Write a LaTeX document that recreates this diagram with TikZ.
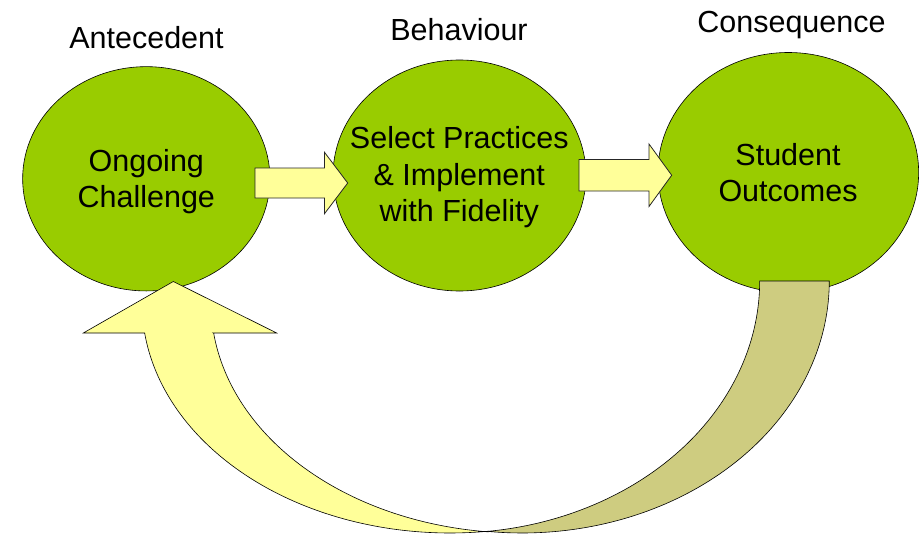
\documentclass[tikz,border=0pt]{standalone}
\usepackage{fontspec}
\setmainfont{Liberation Sans}
\usetikzlibrary{shapes.geometric}
\definecolor{ggreen}{RGB}{153,204,0}
\definecolor{pyellow}{RGB}{255,255,153}
\definecolor{polive}{RGB}{206,204,128}
\begin{document}
\begin{tikzpicture}[x=1pt,y=-1pt,
  bubble/.style={ellipse, draw=black, line width=0.6pt, fill=ggreen, inner sep=0pt, outer sep=0pt},
  title/.style={font=\fontsize{30.5}{36}\selectfont, anchor=base, inner sep=0pt},
  bubbletext/.style={font=\fontsize{30.5}{36}\selectfont, align=center, inner sep=0pt},
  blockarrow/.style={draw=black!85, line width=0.8pt, fill=pyellow, line join=miter},
  band/.style={draw=black, line width=0.6pt, line join=miter}]
\useasboundingbox (0,0) rectangle (924,533);
% bubbles
\node[bubble, minimum width=247.3pt, minimum height=224.3pt] (e1) at (146.3,178.8) {};
\node[bubble, minimum width=253pt, minimum height=231pt] (e2) at (459.5,175.5) {};
\node[bubble, minimum width=260.7pt, minimum height=240pt] (e3) at (788.3,172.5) {};
% titles
\node[title] (h1) at (146.5,48) {Antecedent};
\node[title] (h2) at (459,40) {Behaviour};
\node[title] (h3) at (791.5,32) {Consequence};
% bubble texts
\node[bubbletext] (t1) at (146.3,182.1) {Ongoing\\Challenge};
\node[bubbletext, font=\fontsize{30.5}{36.5}\selectfont] (t2) at (459.3,177.6) {Select Practices\\\& Implement\\with Fidelity};
\node[bubbletext] (t3) at (788,173) {Student\\Outcomes};
% block arrows
\coordinate (a1tail) at (255,183);
\coordinate (a1tip) at (347.7,183);
\coordinate (a2tail) at (579,175.25);
\coordinate (a2tip) at (671.7,175.25);
\draw[blockarrow] ([yshift=15pt]a1tail) -- (324.5,168) -- (324.5,152.3) -- (a1tip)
  -- (324.5,213.7) -- (324.5,198) -- ([yshift=-15pt]a1tail) -- cycle;
\draw[blockarrow] ([yshift=15.75pt]a2tail) -- (649,159.5) -- (649,144) -- (a2tip)
  -- (649,206.5) -- (649,191) -- ([yshift=-15.75pt]a2tail) -- cycle;
% curved return arrow
\coordinate (M) at (488,531.5);
\coordinate (rtip) at (173.3,281.5);
\coordinate (stubL) at (759.7,281);
\coordinate (stubR) at (829.3,281);
\draw[band, fill=polive] (stubL) -- (stubR)
  -- plot[domain=0:96.36, samples=80, variable=\t] ({522+307.3*cos(\t)},{281+252*sin(\t)})
  -- (M)
  -- plot[domain=83.45:0, samples=80, variable=\t] ({452.7+307*cos(\t)},{281+252*sin(\t)})
  -- cycle;
\draw[band, fill=pyellow] (rtip) -- (276.7,333) -- (213.6,333)
  -- plot[domain=172.5:95.8, samples=80, variable=\t] ({519+308*cos(\t)},{303+230*sin(\t)})
  -- (M)
  -- plot[domain=82.9:172.5, samples=80, variable=\t] ({450+308*cos(\t)},{303+230*sin(\t)})
  -- (83.3,333) -- cycle;
\end{tikzpicture}
\end{document}
